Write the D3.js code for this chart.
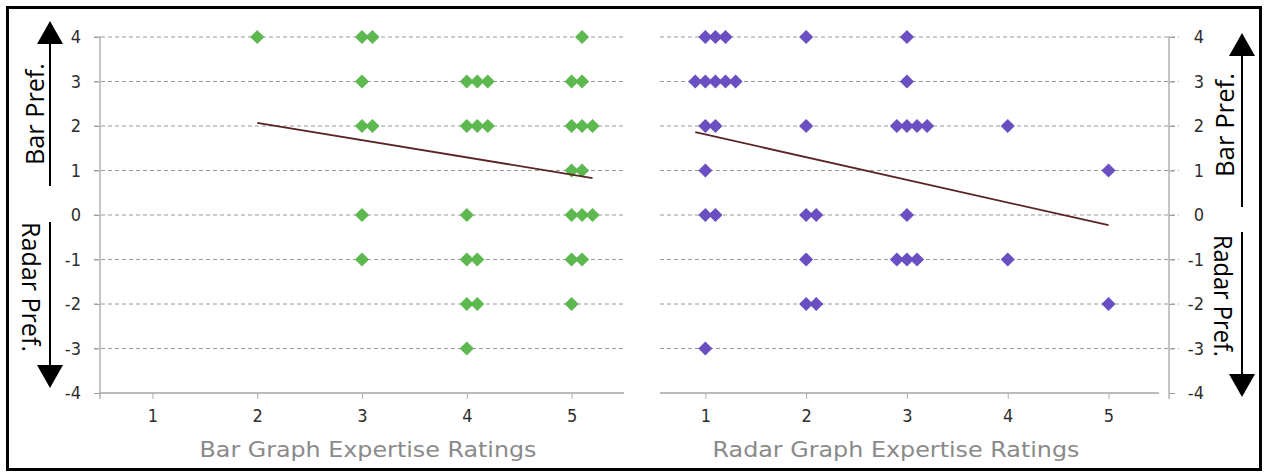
<!DOCTYPE html>
<html>
<head>
<meta charset="utf-8">
<script src="https://cdn.jsdelivr.net/npm/d3@7"></script>
<style>
  html, body { margin: 0; padding: 0; background: #fff; }
  svg { display: block; }
</style>
</head>
<body>
<svg id="chart" width="1265" height="472"></svg>
<script>
// Expertise ratings (x, slightly offset so stacked answers stay visible) and preference scores (y)
const barExpertise  = [2, 3, 3.1, 5.1,
                       3, 4, 4.1, 4.2, 5, 5.1,
                       3, 3.1, 4, 4.1, 4.2, 5, 5.1, 5.2,
                       5, 5.1,
                       3, 4, 5, 5.1, 5.2,
                       3, 4, 4.1, 5, 5.1,
                       4, 4.1, 5,
                       4];
const barPreference = [4, 4, 4, 4,
                       3, 3, 3, 3, 3, 3,
                       2, 2, 2, 2, 2, 2, 2, 2,
                       1, 1,
                       0, 0, 0, 0, 0,
                       -1, -1, -1, -1, -1,
                       -2, -2, -2,
                       -3];

const radarExpertise  = [1, 1.1, 1.2, 2, 3,
                         0.9, 1, 1.1, 1.2, 1.3, 3,
                         1, 1.1, 2, 2.9, 3, 3.1, 3.2, 4,
                         1, 5,
                         1, 1.1, 2, 2.1, 3,
                         2, 2.9, 3, 3.1, 4,
                         2, 2.1, 5,
                         1];
const radarPreference = [4, 4, 4, 4, 4,
                         3, 3, 3, 3, 3, 3,
                         2, 2, 2, 2, 2, 2, 2, 2,
                         1, 1,
                         0, 0, 0, 0, 0,
                         -1, -1, -1, -1, -1,
                         -2, -2, -2,
                         -3];

// Linear trend lines (end points)
const barTrendX   = [2, 5.2];
const barTrendY   = [2.07, 0.83];
const radarTrendX = [0.9, 5.0];
const radarTrendY = [1.86, -0.23];

// Axis ticks
const xTicks = [1, 2, 3, 4, 5];
const yTicks = [4, 3, 2, 1, 0, -1, -2, -3, -4];

const svg = d3.select("#chart");

const tickFont = "'Liberation Sans Narrow', 'DejaVu Sans Condensed', 'Arial Narrow', sans-serif";
const titleFont = "'DejaVu Sans', Verdana, sans-serif";
const prefFont = "'Open Sans', 'Noto Sans', sans-serif";
const fmt = d => String(d);   // plain hyphen for negatives

const y = d3.scaleLinear().domain([-4, 4]).range([393, 37]);

function panel(opts) {
  const x = d3.scaleLinear().domain(opts.xDomain).range(opts.xRange);
  const g = svg.append("g");
  const [x0, x1] = opts.xRange;
  const axisX = opts.side === "left" ? x0 : x1;

  // dashed gridlines
  g.append("g").selectAll("line")
    .data(yTicks.filter(v => v !== -4))
    .join("line")
    .attr("x1", opts.side === "left" ? x0 - 6 : x0)
    .attr("x2", opts.side === "left" ? x1 : x1 + 10)
    .attr("y1", d => y(d)).attr("y2", d => y(d))
    .attr("stroke", "#9a9a9a")
    .attr("stroke-width", 1)
    .attr("stroke-dasharray", "4,3");

  // x axis
  const xAxis = d3.axisBottom(x).tickValues(xTicks).tickSize(6).tickPadding(10)
    .tickFormat(fmt);
  const gx = g.append("g").attr("transform", `translate(0,${y(-4)})`).call(xAxis);
  gx.select(".domain").attr("stroke", "#a6a6a6").attr("stroke-width", 1.5)
    .attr("d", `M${x0},0H${opts.side === "left" ? x1 : x1 - 10}`);
  gx.selectAll(".tick line").attr("stroke", "#b0b0b0");
  gx.selectAll(".tick text")
    .attr("font-family", tickFont).attr("font-size", 18).attr("fill", "#2e2e2e");

  // y axis
  const yAxis = (opts.side === "left" ? d3.axisLeft(y) : d3.axisRight(y))
    .tickValues(yTicks).tickSize(6).tickPadding(opts.side === "left" ? 13 : 20)
    .tickFormat(fmt);
  const gy = g.append("g").attr("transform", `translate(${axisX},0)`).call(yAxis);
  gy.select(".domain").attr("stroke", "#8c8c8c").attr("stroke-width", 1)
    .attr("d", `M0,${y(4) - 1}V${y(-4) + 6}`);
  gy.selectAll(".tick line").attr("stroke", "#a0a0a0");
  gy.selectAll(".tick text")
    .attr("font-family", tickFont).attr("font-size", 18).attr("fill", "#2e2e2e");
  if (opts.side === "right") {
    gy.selectAll(".tick text").attr("text-anchor", "end").attr("x", 35);
  }

  // points
  const pts = opts.xs.map((v, i) => ({ x: v, y: opts.ys[i] }));
  const diamond = d3.symbol().type(d3.symbolSquare).size(100);
  g.append("g").selectAll("path")
    .data(pts)
    .join("path")
    .attr("d", diamond)
    .attr("transform", d => `translate(${x(d.x)},${y(d.y)}) rotate(45)`)
    .attr("fill", opts.color);

  // trend line
  const line = d3.line().x(d => x(d[0])).y(d => y(d[1]));
  g.append("path")
    .datum(opts.trendX.map((v, i) => [v, opts.trendY[i]]))
    .attr("d", line)
    .attr("fill", "none")
    .attr("stroke", "#5a2424")
    .attr("stroke-width", 1.8);

  // axis title
  g.append("text")
    .attr("x", opts.titleX).attr("y", 457)
    .attr("text-anchor", "middle")
    .attr("font-family", titleFont).attr("font-size", 22)
    .attr("fill", "#8a8a8a")
    .attr("textLength", opts.titleLen).attr("lengthAdjust", "spacingAndGlyphs")
    .text(opts.title);
}

panel({
  xDomain: [0.5, 5.5], xRange: [100, 624], side: "left",
  xs: barExpertise, ys: barPreference, color: "#5cb84f",
  trendX: barTrendX, trendY: barTrendY,
  title: "Bar Graph Expertise Ratings", titleX: 368, titleLen: 337
});

panel({
  xDomain: [0.55, 5.6], xRange: [660, 1169], side: "right",
  xs: radarExpertise, ys: radarPreference, color: "#6a4fc2",
  trendX: radarTrendX, trendY: radarTrendY,
  title: "Radar Graph Expertise Ratings", titleX: 896, titleLen: 367
});

// Preference direction arrows
function arrow(cx, yFrom, yTo) {
  const dir = yTo < yFrom ? -1 : 1;
  const headLen = 23, headHalf = 13;
  svg.append("line")
    .attr("x1", cx).attr("x2", cx)
    .attr("y1", yFrom).attr("y2", yTo - dir * headLen + dir * 2)
    .attr("stroke", "#000").attr("stroke-width", 2);
  svg.append("path")
    .attr("d", `M${cx},${yTo}L${cx - headHalf},${yTo - dir * headLen}L${cx + headHalf},${yTo - dir * headLen}Z`)
    .attr("fill", "#000");
}
function prefLabel(cx, cy, rot, len, txt) {
  svg.append("text")
    .attr("transform", `translate(${cx},${cy}) rotate(${rot})`)
    .attr("text-anchor", "middle")
    .attr("dominant-baseline", "central")
    .attr("font-family", prefFont).attr("font-size", 25)
    .attr("fill", "#000")
    .attr("textLength", len).attr("lengthAdjust", "spacingAndGlyphs")
    .text(txt);
}

arrow(50, 186, 21);
arrow(50, 222, 388);
prefLabel(34, 114, -90, 102, "Bar Pref.");
prefLabel(32, 287, 90, 130, "Radar Pref.");

arrow(1242, 207, 33);
arrow(1242, 232, 397);
prefLabel(1224, 125, -90, 104, "Bar Pref.");
prefLabel(1224, 296, 90, 122, "Radar Pref.");

// outer frame
svg.append("rect")
  .attr("x", 7.5).attr("y", 7.5)
  .attr("width", 1253).attr("height", 462)
  .attr("fill", "none")
  .attr("stroke", "#000").attr("stroke-width", 3);
</script>
</body>
</html>
